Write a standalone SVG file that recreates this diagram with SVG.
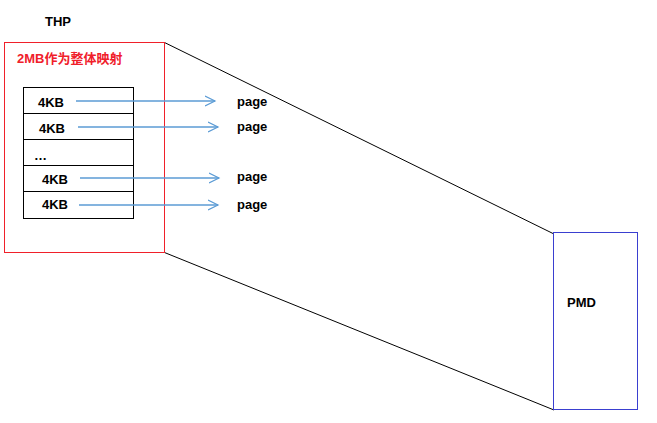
<svg xmlns="http://www.w3.org/2000/svg" width="657" height="423" viewBox="0 0 657 423">
<style>
text{font-family:"Liberation Sans","Noto Sans CJK SC",sans-serif;font-weight:bold;font-size:13px;fill:#000}
.red{fill:#f0202a}
.cell{fill:#fff;stroke:#000;stroke-width:1}
.arr{stroke:#5b9bd5;stroke-width:1.3;fill:none}
.ln{stroke:#000;stroke-width:1;fill:none}
</style>
<defs>
<marker id="ah" markerWidth="12" markerHeight="12" refX="10" refY="6" orient="auto" markerUnits="userSpaceOnUse">
<path d="M0,1 L10,6 L0,11" fill="none" stroke="#5b9bd5" stroke-width="1.2"/>
</marker>
</defs>
<rect width="657" height="423" fill="#fff"/>
<text x="45" y="26">THP</text>
<g id="connectors">
<line class="ln" x1="164.5" y1="42.5" x2="554" y2="234"/>
<line class="ln" x1="164.5" y1="252.5" x2="554" y2="410"/>
</g>
<g id="thp">
<rect x="4.5" y="42.5" width="160" height="210" fill="#fff" stroke="#f0202a" stroke-width="1"/>
<text class="red" x="17" y="63">2MB作为整体映射</text>
</g>
<g id="table">
<rect class="cell" x="23.5" y="87.5" width="110" height="26"/>
<rect class="cell" x="23.5" y="113.5" width="110" height="26"/>
<rect class="cell" x="23.5" y="139.5" width="110" height="26"/>
<rect class="cell" x="23.5" y="165.5" width="110" height="26"/>
<rect class="cell" x="23.5" y="191.5" width="110" height="27"/>
<text x="38" y="107">4KB</text>
<text x="39" y="133">4KB</text>
<text x="34" y="160">…</text>
<text x="42" y="184">4KB</text>
<text x="42" y="209">4KB</text>
</g>
<g id="arrows">
<line class="arr" x1="76" y1="101" x2="215" y2="101" marker-end="url(#ah)"/>
<line class="arr" x1="78" y1="127" x2="218" y2="127" marker-end="url(#ah)"/>
<line class="arr" x1="80" y1="178" x2="219" y2="178" marker-end="url(#ah)"/>
<line class="arr" x1="79" y1="205" x2="218" y2="205" marker-end="url(#ah)"/>
</g>
<g id="pages">
<text x="237" y="106">page</text>
<text x="237" y="131">page</text>
<text x="237" y="181">page</text>
<text x="237" y="209">page</text>
</g>
<g id="pmd">
<rect x="553.5" y="232.5" width="84" height="177" fill="#fff" stroke="#3a3fd0" stroke-width="1"/>
<text x="567" y="307">PMD</text>
</g>
</svg>
